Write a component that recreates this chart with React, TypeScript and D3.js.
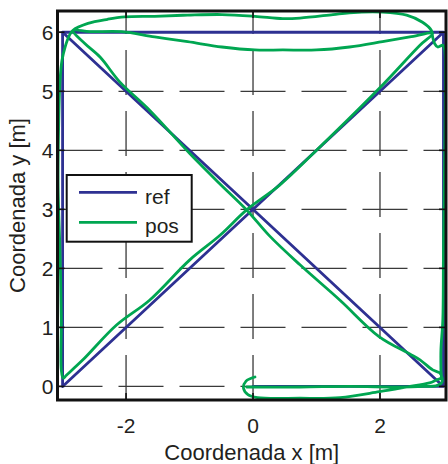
import React from "react";
import * as d3 from "d3";

const xTicks = [-2, 0, 2];
const yTicks = [0, 1, 2, 3, 4, 5, 6];
const xTickLabels = ["-2", "0", "2"];
const yTickLabels = ["0", "1", "2", "3", "4", "5", "6"];

const refX = [0, 3, -3, 3, -3, -3, 3, 3, 0];
const refY = [0, 0, 6, 6, 0, 6, 6, 0, 0];

const posX = [
  -0.1, 0.74, 1.52, 2.31, 2.7, 2.88, 2.97, 2.98, 2.94, 2.83,
  2.63, 2.47, 1.99, 1.37, 0.74, 0.26, -0.1, -0.52, -1.0, -1.63, -2.1, -2.41, -2.65, -2.84,
  -2.57, -2.07, -1.55, -1.03, -0.49, 0.03, 0.47, 1.0, 1.52, 2.04, 2.47, 2.83,
  2.63, 1.99, 1.0, 0.42, -0.1, -0.52, -1.0, -1.63, -2.15, -2.68, -2.94, -2.99,
  -3.02, -3.02, -3.04, -3.07, -3.06, -3.04, -3.01, -2.96, -2.9, -2.84,
  -2.6, -2.29, -2.02, -1.55, -1.03, -0.49, 0.03, 0.47, 0.74, 1.26, 1.52, 2.04, 2.42, 2.67, 2.81, 2.83, 2.86, 2.91, 2.99, 3.02,
  3.03, 3.02, 3.0, 2.99, 2.96, 2.96, 2.96,
  2.89, 2.78, 2.42, 1.99, 1.37, 0.74, 0.07, -0.08, -0.15, -0.11, 0.03,
];
const posY = [
  -0.01, -0.01, 0.0, -0.01, 0.0, 0.01, 0.06, 0.14, 0.23, 0.28,
  0.45, 0.55, 0.84, 1.46, 2.06, 2.55, 2.99, 3.43, 3.95, 4.68, 5.16, 5.58, 5.81, 6.03,
  6.01, 6.01, 5.92, 5.84, 5.75, 5.7, 5.7, 5.7, 5.75, 5.84, 5.92, 5.98,
  5.78, 5.05, 4.0, 3.41, 2.99, 2.56, 2.14, 1.46, 1.04, 0.45, 0.19, 0.14,
  0.28, 1.13, 2.26, 3.38, 4.51, 5.18, 5.52, 5.75, 5.93, 6.03,
  6.15, 6.22, 6.26, 6.27, 6.29, 6.3, 6.27, 6.23, 6.24, 6.3, 6.33, 6.34, 6.29, 6.17, 6.03, 5.92, 5.81, 5.75, 5.78, 5.7,
  5.19, 4.0, 2.3, 1.13, 0.62, 0.28, 0.14,
  0.11, 0.06, -0.01, -0.09, -0.19, -0.2, -0.19, -0.14, -0.03, 0.09, 0.16,
];

const W = 448;
const H = 464;
const L = 57.5, R = 446, T = 11, B = 400;

const BLUE = "#2e3192";
const GREEN = "#00a651";
const TEXT = "#231f20";
const FONT = "'Liberation Sans', Arial, Helvetica, sans-serif";

export default function App() {
  const x = d3.scaleLinear().domain([-3.08, 3.04]).range([L, R]);
  const y = d3.scaleLinear().domain([-0.23, 6.36]).range([B, T]);

  const refPts: [number, number][] = refX.map((v, i) => [v, refY[i]]);
  const posPts: [number, number][] = posX.map((v, i) => [v, posY[i]]);

  const lineStraight = d3
    .line<[number, number]>()
    .x((d) => x(d[0]))
    .y((d) => y(d[1]));
  const lineSmooth = d3
    .line<[number, number]>()
    .x((d) => x(d[0]))
    .y((d) => y(d[1]))
    .curve(d3.curveCatmullRom.alpha(0.5));

  const tickLen = 7;

  return (
    <div style={{ position: "absolute", left: 0, top: 0 }}>
      <svg width={W} height={H} style={{ display: "block", background: "#fff" }}>
        <defs>
          <clipPath id="plotclip">
            <rect x={L} y={T} width={R - L} height={B - T} />
          </clipPath>
        </defs>
        <rect x={0} y={0} width={W} height={H} fill="#fff" />
        {/* grid */}
        <g stroke="#3a3a3a" strokeWidth={1.3} strokeDasharray="45 16" fill="none">
          {yTicks.map((t) => (
            <line key={"gy" + t} x1={L} x2={R} y1={y(t)} y2={y(t)} />
          ))}
          {xTicks.map((t) => (
            <line key={"gx" + t} x1={x(t)} x2={x(t)} y1={B} y2={T} />
          ))}
        </g>
        {/* data */}
        <g clipPath="url(#plotclip)" fill="none" strokeLinejoin="round" strokeLinecap="round">
          <path d={lineStraight(refPts) || ""} stroke={BLUE} strokeWidth={2.8} />
          <path d={lineSmooth(posPts) || ""} stroke={GREEN} strokeWidth={2.8} />
        </g>
        {/* ticks */}
        <g stroke="#111" strokeWidth={1.6}>
          {yTicks.map((t) => (
            <g key={"ty" + t}>
              <line x1={L} x2={L + tickLen} y1={y(t)} y2={y(t)} />
              <line x1={R} x2={R - tickLen} y1={y(t)} y2={y(t)} />
            </g>
          ))}
          {xTicks.map((t) => (
            <g key={"tx" + t}>
              <line x1={x(t)} x2={x(t)} y1={B} y2={B - tickLen} />
              <line x1={x(t)} x2={x(t)} y1={T} y2={T + tickLen} />
            </g>
          ))}
        </g>
        {/* axes box */}
        <rect x={L} y={T} width={R - L} height={B - T} fill="none" stroke="#111" strokeWidth={3} />
        {/* tick labels */}
        <g fontFamily={FONT} fontSize={21} fill={TEXT}>
          {yTicks.map((t, i) => (
            <text key={"ly" + t} x={L - 4} y={y(t)} dy="0.36em" textAnchor="end">
              {yTickLabels[i]}
            </text>
          ))}
          {xTicks.map((t, i) => (
            <text key={"lx" + t} x={x(t)} y={432.5} textAnchor="middle">
              {xTickLabels[i]}
            </text>
          ))}
        </g>
        {/* axis labels */}
        <text x={(L + R) / 2} y={460} textAnchor="middle" fontFamily={FONT} fontSize={22} fill={TEXT}>
          Coordenada x [m]
        </text>
        <text
          transform={`translate(24.5, ${(T + B) / 2}) rotate(-90)`}
          textAnchor="middle"
          fontFamily={FONT}
          fontSize={22}
          fill={TEXT}
        >
          Coordenada y [m]
        </text>
        {/* legend */}
        <g>
          <rect x={66.7} y={175} width={125} height={66.7} fill="#fff" stroke="#111" strokeWidth={2} />
          <line x1={79} x2={137} y1={192.3} y2={192.3} stroke={BLUE} strokeWidth={2.8} />
          <line x1={79} x2={137} y1={222.3} y2={222.3} stroke={GREEN} strokeWidth={2.8} />
          <text x={145} y={204.3} fontFamily={FONT} fontSize={21} fill={TEXT}>
            ref
          </text>
          <text x={145} y={233.3} fontFamily={FONT} fontSize={21} fill={TEXT}>
            pos
          </text>
        </g>
      </svg>
    </div>
  );
}
